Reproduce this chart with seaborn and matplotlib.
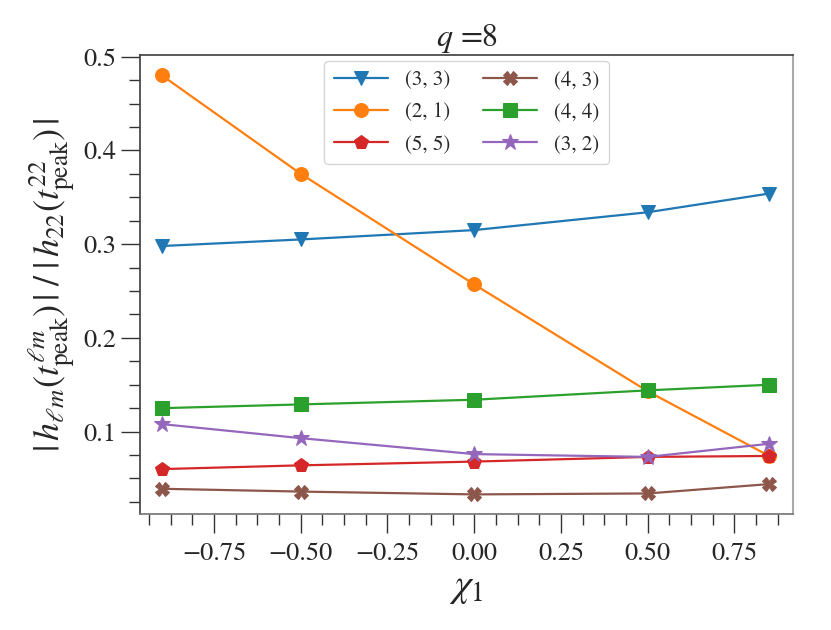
import numpy as np
import pandas as pd
import matplotlib
matplotlib.use("Agg")
import matplotlib.pyplot as plt
import seaborn as sns
from matplotlib.ticker import MultipleLocator

chi = [-0.9, -0.5, 0.0, 0.5, 0.85]
modes = ["(3, 3)", "(2, 1)", "(5, 5)", "(4, 3)", "(4, 4)", "(3, 2)"]
v33 = [0.298, 0.305, 0.315, 0.334, 0.354]
v21 = [0.480, 0.375, 0.257, 0.143, 0.074]
v55 = [0.060, 0.064, 0.068, 0.073, 0.074]
v43 = [0.039, 0.036, 0.033, 0.034, 0.044]
v44 = [0.125, 0.129, 0.134, 0.144, 0.150]
v32 = [0.108, 0.093, 0.076, 0.073, 0.087]
values = [v33, v21, v55, v43, v44, v32]
markers = ["v", "o", "p", "X", "s", "*"]
colors = ["#1f77b4", "#ff7f0e", "#d62728", "#8c564b", "#2ca02c", "#9467bd"]

sns.set_theme(style="ticks")
plt.rcParams["font.family"] = ["STIXGeneral", "Liberation Serif", "DejaVu Serif"]
plt.rcParams["mathtext.fontset"] = "stix"

fig = plt.figure(figsize=(8.31, 6.3), dpi=100)
ax = fig.add_axes([0.169, 0.184, 0.785, 0.729])

for m, v, mk, c in zip(modes, values, markers, colors):
    df = pd.DataFrame({"chi": chi, "val": v})
    sns.lineplot(data=df, x="chi", y="val", ax=ax, color=c, marker=mk,
                 markersize=10 if mk != "*" else 12, markeredgecolor=c,
                 linewidth=1.6, label=m)

ax.set_xlim(-0.962, 0.918)
ax.set_ylim(0.012, 0.502)
ax.xaxis.set_major_locator(MultipleLocator(0.25))
ax.xaxis.set_minor_locator(MultipleLocator(0.0625))
ax.yaxis.set_major_locator(MultipleLocator(0.1))
ax.yaxis.set_minor_locator(MultipleLocator(0.025))
ax.set_yticks([0.1, 0.2, 0.3, 0.4, 0.5])
ax.tick_params(which="major", direction="out", length=14, width=1, labelsize=19, color="#333")
ax.tick_params(which="minor", direction="out", length=8, width=1, color="#333")
ax.tick_params(axis="x", which="both", pad=6)
ax.set_xticks([-0.75, -0.5, -0.25, 0.0, 0.25, 0.5, 0.75])
ax.set_xticklabels(["\u22120.75", "\u22120.50", "\u22120.25", "0.00", "0.25", "0.50", "0.75"])

for s in ["left", "top"]:
    ax.spines[s].set_color("#444")
ax.spines["bottom"].set_color("#777")
ax.spines["right"].set_color("#aaa")
ax.spines["right"].set_linewidth(1.5)

ax.set_xlabel(r"$\chi_1$", fontsize=28)
ax.set_ylabel(r"$|\,h_{\ell m}(t^{\ell m}_{\rm peak})\,|\;/\;|\,h_{22}(t^{22}_{\rm peak})\,|$", fontsize=26)
ax.set_title(r"$q$ =8", fontsize=23)

leg = ax.legend(ncol=2, loc="upper center", fontsize=15, frameon=True,
                fancybox=True, edgecolor="#ccc", handlelength=2.6,
                columnspacing=1.6, borderpad=0.45, labelspacing=0.6,
                borderaxespad=0.3)

fig.savefig("out.png", dpi=100)
